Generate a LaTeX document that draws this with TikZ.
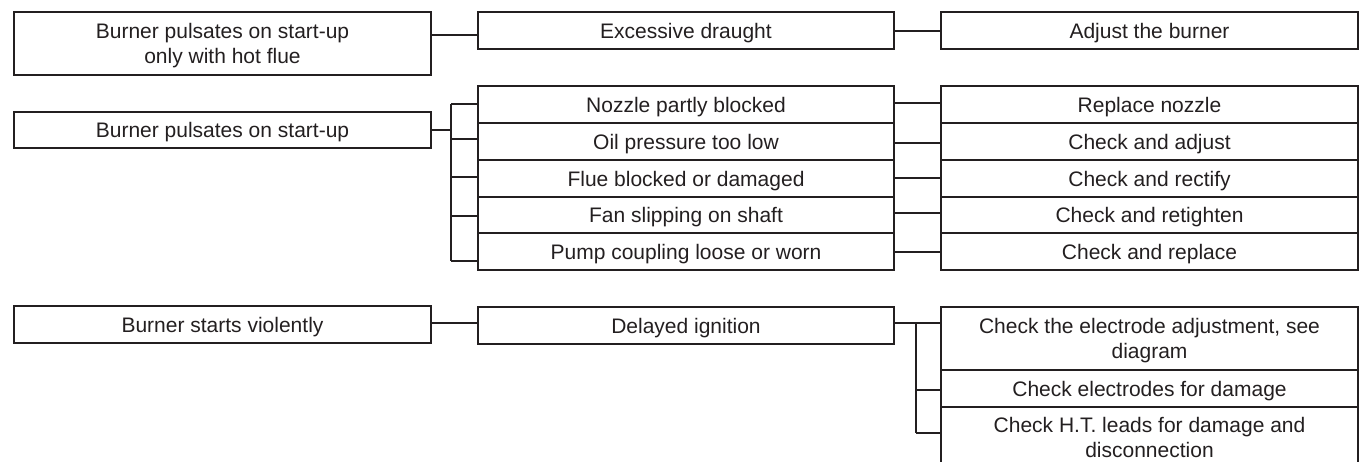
\documentclass[tikz,border=0pt]{standalone}
\usepackage{fontspec}
\setmainfont{Liberation Sans}
\definecolor{ink}{HTML}{231F20}
\begin{document}
\begin{tikzpicture}[x=1pt,y=-1pt,
  box/.style={draw=ink, line width=1.9pt, inner sep=0pt, outer sep=0pt, anchor=north west, align=center,
    font=\fontsize{21}{25}\selectfont, text=ink, text depth=0pt, minimum width=417pt},
  link/.style={draw=ink, line width=1.9pt}]
\useasboundingbox (0,0) rectangle (1365,462);
% group 1
\node[box, minimum height=63pt] (A1) at (14,12) {Burner pulsates on start-up\\only with hot flue};
\node[box, minimum width=416pt, minimum height=37pt] (B1) at (478,12) {Excessive draught};
\node[box, minimum height=37pt] (C1) at (941,12) {Adjust the burner};
\draw[link] (A1.east |- 0,35) -- (B1.west |- 0,35);
\draw[link] (B1.east |- 0,31) -- (C1.west |- 0,31);
% group 2
\node[box, minimum height=36pt] (A2) at (14,112) {Burner pulsates on start-up};
\node[box, minimum width=416pt, minimum height=37pt] (M1) at (478,86) {Nozzle partly blocked};
\node[box, minimum width=416pt, minimum height=37pt] (M2) at (478,123) {Oil pressure too low};
\node[box, minimum width=416pt, minimum height=37pt] (M3) at (478,160) {Flue blocked or damaged};
\node[box, minimum width=416pt, minimum height=36pt] (M4) at (478,197) {Fan slipping on shaft};
\node[box, minimum width=416pt, minimum height=37pt] (M5) at (478,233) {Pump coupling loose or worn};
\node[box, minimum height=37pt] (R1) at (941,86) {Replace nozzle};
\node[box, minimum height=37pt] (R2) at (941,123) {Check and adjust};
\node[box, minimum height=37pt] (R3) at (941,160) {Check and rectify};
\node[box, minimum height=36pt] (R4) at (941,197) {Check and retighten};
\node[box, minimum height=37pt] (R5) at (941,233) {Check and replace};
\coordinate (bus2) at (451,130);
\coordinate (k1) at (451,104);
\coordinate (k5) at (451,261);
\draw[link] (A2.east |- bus2) -- (bus2);
\draw[link] (k1) -- (k5);
\draw[link] (k1) -- (M1.west |- k1);
\draw[link] (451,139) -- (M2.west |- 0,139);
\draw[link] (451,177) -- (M3.west |- 0,177);
\draw[link] (451,216) -- (M4.west |- 0,216);
\draw[link] (k5) -- (M5.west |- k5);
\draw[link] (M1.east |- 0,103) -- (R1.west |- 0,103);
\draw[link] (M2.east |- 0,143) -- (R2.west |- 0,143);
\draw[link] (M3.east |- 0,178) -- (R3.west |- 0,178);
\draw[link] (M4.east |- 0,213) -- (R4.west |- 0,213);
\draw[link] (M5.east |- 0,252) -- (R5.west |- 0,252);
% group 3
\node[box, minimum height=37pt] (A3) at (14,306) {Burner starts violently};
\node[box, minimum width=416pt, minimum height=37pt] (B3) at (478,307) {Delayed ignition};
\node[box, minimum height=63pt] (S1) at (941,307) {Check the electrode adjustment, see\\diagram};
\node[box, minimum height=37pt] (S2) at (941,370) {Check electrodes for damage};
\node[box, minimum height=60pt] (S3) at (941,407) {Check H.T. leads for damage and\\disconnection};
\coordinate (bus3) at (916,323);
\coordinate (j3) at (916,433);
\draw[link] (A3.east |- 0,323) -- (B3.west |- 0,323);
\draw[link] (B3.east |- bus3) -- (S1.west |- bus3);
\draw[link] (bus3) -- (j3);
\draw[link] (916,390) -- (S2.west |- 0,390);
\draw[link] (j3) -- (S3.west |- j3);
\end{tikzpicture}
\end{document}
